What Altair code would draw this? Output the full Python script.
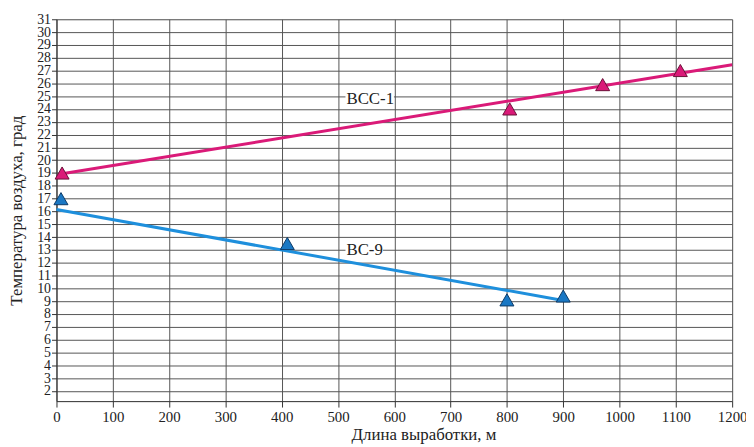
import altair as alt
import pandas as pd

# BCC-1 measurements
bcc_x = [10, 805, 970, 1108]
bcc_y = [19.0, 24.0, 25.9, 27.0]
# BCC-1 trend line end points
bcc_line_x = [10, 1200]
bcc_line_y = [18.95, 27.45]

# BC-9 measurements
bc_x = [8, 410, 800, 900]
bc_y = [17.0, 13.5, 9.1, 9.4]
# BC-9 trend line end points
bc_line_x = [0, 900]
bc_line_y = [16.15, 9.05]

labels = ["ВСС-1", "ВС-9"]
label_x = [515, 515]
label_y = [24.75, 12.95]

x_ticks = list(range(0, 1201, 100))
y_ticks = list(range(2, 32))

FONT = "Liberation Serif"
MAG = "#DA1A78"
BLUE = "#1E8FDC"

pts_bcc = pd.DataFrame({"x": bcc_x, "y": bcc_y})
pts_bc = pd.DataFrame({"x": bc_x, "y": bc_y})
ln_bcc = pd.DataFrame({"x": bcc_line_x, "y": bcc_line_y})
ln_bc = pd.DataFrame({"x": bc_line_x, "y": bc_line_y})
lab = pd.DataFrame({"t": labels, "x": label_x, "y": label_y})

xs = alt.Scale(domain=[0, 1200], nice=False, zero=False)
ys = alt.Scale(domain=[1.2, 31], nice=False, zero=False)

xax = alt.Axis(values=x_ticks, format="d", title="Длина выработки, м", grid=True,
               gridColor="#555555", gridWidth=1, domainColor="#333333",
               tickColor="#333333", tickSize=6, labelFont=FONT, labelFontSize=15,
               labelColor="#222222", titleFont=FONT, titleFontSize=17,
               titleFontWeight="normal", titleColor="#222222", labelPadding=3,
               titleX=371, titleY=26, labelFlush=False, labelOverlap=False)
yax = alt.Axis(values=y_ticks, format="d", title="Температура воздуха, град", grid=True,
               gridColor="#555555", gridWidth=1, domainColor="#333333",
               tickColor="#333333", tickSize=5, labelFont=FONT, labelFontSize=14,
               labelColor="#222222", titleFont=FONT, titleFontSize=17,
               titleFontWeight="normal", titleColor="#222222", labelPadding=1,
               titlePadding=11, labelFlush=False, labelOverlap=False,
               labelSeparation=0)

X = alt.X("x:Q", scale=xs, axis=xax)
Y = alt.Y("y:Q", scale=ys, axis=yax)

line_bcc = alt.Chart(ln_bcc).mark_line(color=MAG, strokeWidth=3).encode(x=X, y=Y)
line_bc = alt.Chart(ln_bc).mark_line(color=BLUE, strokeWidth=3).encode(x=X, y=Y)
p_bcc = alt.Chart(pts_bcc).mark_point(shape="triangle-up", size=200, filled=True,
                                       fill=MAG, stroke="#6a1038", strokeWidth=1,
                                       opacity=1).encode(x=X, y=Y)
p_bc = alt.Chart(pts_bc).mark_point(shape="triangle-up", size=200, filled=True,
                                     fill="#1A78C4", stroke="#0c3a66", strokeWidth=1,
                                     opacity=1).encode(x=X, y=Y)

# white boxes behind the series labels (covering the grid)
boxes = []
for i, w in enumerate([48, 37]):
    boxes.append(
        alt.Chart(lab.iloc[[i]]).mark_rect(
            color="white", opacity=1, xOffset=-1, x2Offset=w,
            yOffset=-7, y2Offset=7).encode(x=X, x2="x:Q", y=Y, y2="y:Q"))

txt = alt.Chart(lab).mark_text(font=FONT, fontSize=17, color="#222222",
                               align="left", baseline="middle").encode(
    x=X, y=Y, text="t:N")

chart = alt.layer(*boxes, line_bcc, line_bc, p_bcc, p_bc, txt).properties(
    width=683, height=386,
    autosize=alt.AutoSizeParams(type="none"),
    padding={"left": 49, "top": 9, "right": 14, "bottom": 44},
).configure_view(stroke="#555555", strokeWidth=1).configure(
    background="white", font=FONT).configure_axis(
    labelFont=FONT, titleFont=FONT, labelOverlap=False)

chart.save("out.html", embed_options={"renderer": "svg", "actions": False})
